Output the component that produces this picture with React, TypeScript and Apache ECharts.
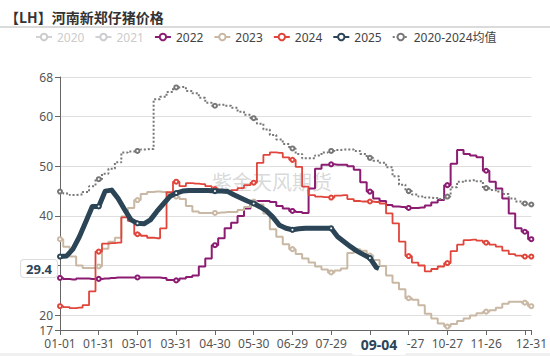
import React, { useEffect, useRef } from 'react';
import * as echarts from 'echarts';

const TITLE = '【LH】河南新郑仔猪价格';
const WATERMARK = '紫金天风期货';
const SERIES_NAMES = ['2020', '2021', '2022', '2023', '2024', '2025', '2020-2024均值'];
const HIDDEN = ['2020', '2021'];
const STEP = 5; // values below are sampled every 5 days from 01-01
const Y_MIN = 17;
const Y_MAX = 68;
const POINTER_DATE = '09-04';
const POINTER_VALUE = 29.4;

const avgValues = [
  44.9, 44.5, 44.2, 44.3, 44.8, 46.0, 47.4, 48.5, 49.5, 50.8,
  52.8, 53.0, 53.1, 53.4, 53.5, 63.5, 64.0, 65.0, 65.9, 66.0,
  65.2, 64.7, 63.8, 62.8, 62.2, 62.4, 62.2, 61.8, 61.0, 60.4,
  59.7, 58.6, 57.4, 56.3, 55.4, 54.5, 53.6, 52.5, 51.6, 51.6,
  52.2, 52.8, 53.1, 53.3, 53.4, 53.4, 53.1, 52.5, 51.7, 51.1,
  50.7, 49.8, 48.0, 46.3, 45.0, 44.3, 43.9, 43.7, 43.6, 43.4,
  43.9, 45.8, 46.9, 47.1, 47.2, 47.0, 45.6, 45.2, 44.9, 44.4,
  43.5, 42.9, 42.5, 42.3,
];

const values2022 = [
  27.5, 27.3, 27.2, 27.4, 27.4, 27.3, 27.3, 27.4, 27.5, 27.6,
  27.6, 27.6, 27.6, 27.6, 27.6, 27.6, 27.5, 27.1, 27.0, 27.4,
  27.7, 28.0, 29.8, 31.4, 34.1, 35.5, 37.5, 38.6, 40.0, 41.5,
  42.8, 43.0, 43.0, 42.8, 42.0, 41.5, 41.0, 40.8, 40.6, 45.5,
  49.5, 50.3, 50.4, 50.3, 50.3, 50.0, 49.3, 46.8, 44.9, 43.5,
  43.0, 42.2, 41.9, 41.8, 41.6, 41.6, 41.7, 42.1, 42.7, 43.2,
  46.2, 50.5, 53.3, 52.5, 52.2, 51.8, 49.1, 46.9, 45.5, 43.5,
  40.5, 37.5, 36.8, 35.3,
];

const values2023 = [
  35.3, 33.8, 31.8, 30.0, 29.5, 29.5, 29.8, 33.4, 34.8, 35.6,
  39.9, 41.6, 43.2, 44.4, 44.8, 44.9, 44.8, 44.4, 43.9, 43.4,
  42.0, 40.9, 40.6, 40.6, 40.6, 40.7, 40.8, 40.8, 41.2, 41.8,
  42.9, 42.3, 40.5, 37.3, 35.8, 34.3, 33.3, 32.3, 31.4, 30.6,
  29.8, 29.2, 28.6, 29.0, 29.4, 32.5, 33.3, 33.0, 32.0, 31.1,
  29.9, 28.0, 26.5, 25.2, 23.4, 23.1, 22.0, 20.3, 19.3, 18.3,
  17.7, 18.2, 18.8, 19.3, 19.9, 20.4, 20.7, 21.0, 21.5, 22.3,
  22.7, 22.7, 22.5, 21.8,
];

const values2024 = [
  21.8, 21.6, 21.4, 21.5, 22.0, 24.8, 32.8, 34.4, 34.5, 34.6,
  39.7, 39.0, 36.3, 36.0, 35.6, 35.5, 37.5, 44.8, 46.9, 46.0,
  46.6, 46.5, 46.4, 46.0, 45.4, 45.1, 44.9, 45.2, 45.6, 46.2,
  46.7, 50.7, 52.3, 52.8, 52.7, 51.8, 51.3, 49.9, 45.9, 44.2,
  43.9, 43.8, 43.7, 44.1, 44.2, 43.4, 43.0, 42.9, 42.9, 42.8,
  42.5, 40.5, 38.5, 34.8, 31.9, 30.6, 30.0, 28.8, 29.3, 29.8,
  30.5, 32.9, 34.2, 35.1, 35.2, 35.0, 34.6, 34.2, 33.8, 33.0,
  32.3, 32.0, 31.8, 31.8,
];

const values2025 = [
  31.8, 31.9, 33.3, 35.8, 38.8, 41.9, 41.9, 45.0, 45.2, 43.5,
  41.3, 39.2, 38.5, 38.4, 39.2, 40.9, 42.4, 43.9, 44.6, 45.0,
  45.1, 45.1, 45.1, 45.1, 45.0, 45.0, 44.9, 44.2, 43.6, 43.0,
  42.5, 41.8, 41.0, 39.7, 38.1, 37.5, 37.2, 37.4, 37.5, 37.5,
  37.5, 37.5, 37.5, 35.8, 34.8, 33.8, 32.9, 32.2, 31.5, 29.6,
];

// MM-DD categories of a full (leap) year
const MONTH_DAYS = [31, 29, 31, 30, 31, 30, 31, 31, 30, 31, 30, 31];
const dates: string[] = [];
MONTH_DAYS.forEach((n, m) => {
  for (let d = 1; d <= n; d++) {
    dates.push(String(m + 1).padStart(2, '0') + '-' + String(d).padStart(2, '0'));
  }
});

const expand = (vals: number[]) => {
  const arr: (number | null)[] = new Array(dates.length).fill(null);
  vals.forEach((v, i) => {
    arr[i * STEP] = v;
  });
  return arr;
};

const data2025 = expand(values2025);
const pointerIndex = dates.indexOf(POINTER_DATE);
data2025[pointerIndex] = POINTER_VALUE;

const COLORS: Record<string, string> = {
  '2020': '#d9d9d9',
  '2021': '#d9d9d9',
  '2022': '#8B1C72',
  '2023': '#C9B8A4',
  '2024': '#E0453B',
  '2025': '#2B4557',
  '2020-2024均值': '#777777',
};

const LAST = dates.length - 1;
const tickShown = (i: number) => i % 30 === 0 || i === LAST;

const FONT = '"Noto Sans", "Noto Sans CJK SC", sans-serif';

export default function App() {
  const ref = useRef<HTMLDivElement>(null);

  useEffect(() => {
    document.body.style.margin = '0';
    if (!ref.current) return;
    const chart = echarts.init(ref.current, undefined, { renderer: 'svg' });

    const mk = (name: string, data: (number | null)[], extra: any = {}) => ({
      name,
      type: 'line',
      data,
      smooth: false,
      step: 'middle',
      connectNulls: true,
      showSymbol: true,
      showAllSymbol: 'auto',
      symbol: 'emptyCircle',
      symbolSize: 4,
      itemStyle: { color: COLORS[name], borderWidth: 1 },
      lineStyle: { color: COLORS[name], width: 2 },
      emphasis: { disabled: true },
      ...extra,
    });

    const option: any = {
      animation: false,
      backgroundColor: '#ffffff',
      textStyle: { fontFamily: FONT },
      title: {
        text: TITLE,
        left: 0,
        top: 5,
        textStyle: {
          fontSize: 14,
          fontWeight: 'bold',
          color: '#333',
          fontFamily: '"Noto Sans CJK SC", sans-serif',
        },
      },
      legend: {
        left: 30,
        top: 26,
        itemWidth: 16,
        itemHeight: 8,
        itemGap: 10,
        inactiveColor: '#ccc',
        textStyle: { fontSize: 12, color: '#444', fontFamily: FONT },
        data: SERIES_NAMES,
        selected: Object.fromEntries(HIDDEN.map((n) => [n, false])),
      },
      grid: { left: 60, right: 14, top: 77, bottom: 26 },
      xAxis: {
        type: 'category',
        data: dates,
        boundaryGap: false,
        axisLine: { lineStyle: { color: '#666' } },
        axisTick: { interval: tickShown, length: 5, lineStyle: { color: '#666' } },
        axisLabel: {
          interval: tickShown,
          color: '#555',
          fontSize: 12,
          margin: 7,
          formatter: (v: string, i: number) => (i === 360 ? '' : v),
        },
        splitLine: { show: false },
        axisPointer: {
          show: true,
          type: 'line',
          value: pointerIndex,
          status: 'show',
          triggerTooltip: false,
          lineStyle: { opacity: 0 },
          label: {
            show: true,
            backgroundColor: '#fff',
            color: '#2B4557',
            fontWeight: 'bold',
            fontSize: 14,
            padding: [3, 9],
            margin: 5,
            fontFamily: FONT,
          },
        },
      },
      yAxis: {
        type: 'value',
        min: Y_MIN,
        max: Y_MAX,
        axisLine: { show: true, lineStyle: { color: '#666' } },
        axisTick: { show: true, length: 5, lineStyle: { color: '#666' } },
        axisLabel: { color: '#555', fontSize: 12, margin: 7 },
        splitLine: { lineStyle: { color: '#dedede' } },
        axisPointer: {
          show: true,
          type: 'line',
          value: POINTER_VALUE,
          status: 'show',
          triggerTooltip: false,
          lineStyle: { opacity: 0 },
          label: {
            show: true,
            precision: 1,
            backgroundColor: '#fff',
            borderColor: '#ddd',
            borderWidth: 1,
            color: '#2B4557',
            fontWeight: 'bold',
            fontSize: 13,
            padding: [2, 5],
            margin: 3,
            fontFamily: FONT,
          },
        },
      },
      graphic: [
        {
          type: 'line',
          shape: { x1: 0, y1: 27, x2: 550, y2: 27 },
          style: { stroke: '#cfcfcf', lineWidth: 1.5 },
        },
        {
          type: 'rect',
          shape: { x: 0, y: 353, width: 550, height: 3 },
          style: { fill: '#f0f0f0' },
        },
        {
          type: 'text',
          left: 212,
          top: 171,
          z: 0,
          style: {
            text: WATERMARK,
            fontSize: 20,
            fill: 'rgba(170,170,170,0.45)',
            fontFamily: '"Noto Sans CJK SC", sans-serif',
          },
        },
      ],
      series: [
        mk('2020', []),
        mk('2021', []),
        mk('2022', expand(values2022)),
        mk('2023', expand(values2023)),
        mk('2024', expand(values2024), { lineStyle: { color: COLORS['2024'], width: 1.8 } }),
        mk('2025', data2025, {
          z: 5,
          step: false,
          lineStyle: { color: COLORS['2025'], width: 5, join: 'round' },
          itemStyle: { color: COLORS['2025'], borderWidth: 1 },
        }),
        mk('2020-2024均值', expand(avgValues), {
          lineStyle: { color: COLORS['2020-2024均值'], width: 2, type: 'dotted' },
        }),
      ],
    };

    chart.setOption(option);
    return () => chart.dispose();
  }, []);

  return <div ref={ref} style={{ width: 550, height: 356 }} />;
}
